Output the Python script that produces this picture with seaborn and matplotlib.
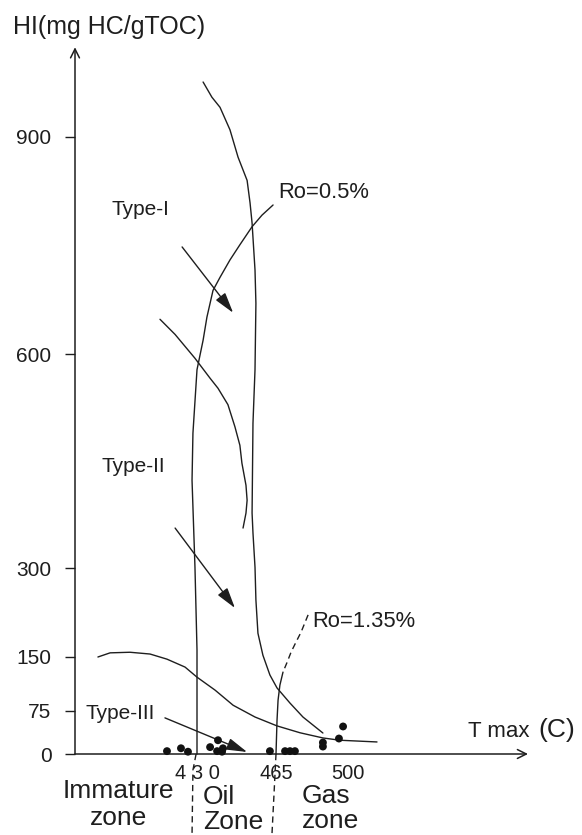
import numpy as np
import pandas as pd
import matplotlib
matplotlib.use("Agg")
import matplotlib.pyplot as plt
import seaborn as sns

# ---------------- data ----------------
y_ticks = [0, 75, 150, 300, 600, 900]
y_tick_labels = ["0", "75", "150", "300", "600", "900"]
x_ticks = [430, 465, 500]
x_tick_labels = ["4 3 0", "465", "500"]

# Type-I evolution path
type1_tmax = [432.7, 436.6, 440.2, 444.6, 448.2, 452.2, 453.5, 454.4, 455.7, 456.1,
              455.7, 454.8, 454.4, 454.8, 455.7, 456.1, 457.0, 459.2, 462.3, 465.5,
              471.8, 478.1, 487.8]
type1_hi = [976, 955, 941, 910, 872, 840, 809, 781, 716, 670,
            578, 503, 377, 349, 301, 246, 190, 153, 125, 107,
            86, 64.5, 36.6]

# Type-II evolution path
type2_tmax = [413.6, 420.3, 429.1, 435.8, 439.3, 443.7, 446.8, 449.0, 449.9, 451.7,
              452.2, 451.7, 450.4]
type2_hi = [648, 627, 594, 566, 552, 529, 498, 472, 447, 416, 395, 377, 356]

# Type-III evolution path
type3_tmax = [386.1, 391.5, 400.3, 409.2, 416.7, 424.7, 430.0, 438.0, 446.0, 455.7,
              465.5, 476.7, 487.8, 496.1, 514.1]
type3_hi = [150, 157, 158, 155, 147, 136, 122, 104, 83, 64.5, 49, 37, 28, 24, 21]

# Ro = 0.5 % iso-maturity line (430 C)
ro05_tmax = [463.7, 458.8, 454.4, 449.0, 444.6, 440.2, 437.1, 434.4, 432.7, 430.0,
             428.2, 427.8, 429.1, 430.0, 430.0, 430.0]
ro05_hi = [806, 792, 776, 751, 730, 706, 688, 651, 619, 578, 489, 423, 301, 162, 90, 0]
ro05_below_tmax = [429.6, 428.2, 427.8]
ro05_below_hi = [0, -28, -141]

# Ro = 1.35 % iso-maturity line (465 C)
ro135_dash_tmax = [480.6, 477.2, 474.7, 472.3, 470.3, 468.4]
ro135_dash_hi = [221, 192, 175, 158, 142, 129]
ro135_tmax = [468.4, 466.9, 466.0, 465.5, 465.0]
ro135_hi = [129, 111, 90, 59, 0]
ro135_below_tmax = [465.0, 464.1, 463.2]
ro135_below_hi = [0, -71.5, -141]

# samples
samples_tmax = [416.7, 422.9, 426.0, 435.8, 439.3, 438.9, 441.5, 441.1, 462.3,
                469.4, 471.8, 474.2, 487.8, 487.8, 495.6, 497.6]
samples_hi = [5, 10, 4, 12, 24, 5, 10, 4, 5, 5, 5, 5, 20, 13, 27, 48]

# arrows: (start tmax, start hi) -> (end tmax, end hi)
arrow_labels = ["Type-I", "Type-II", "Type-III"]
arrow_start_tmax = [423.4, 420.3, 415.8]
arrow_start_hi = [748, 356, 63]
arrow_end_tmax = [446.0, 446.8, 452.2]
arrow_end_hi = [657, 232.6, 3.5]

# ---------------- scales (hand-drawn, piecewise-linear axes) ----------------
XV = np.array([300.0, 430.0, 465.0, 500.0, 700.0])
XP = np.array([-96.4, 197.0, 276.0, 348.0, 759.4])
YV = np.array([-400.0, 0.0, 75.0, 150.0, 300.0, 600.0, 900.0, 1400.0])
YP = np.array([-148.4, 81.0, 124.0, 178.0, 267.0, 481.0, 698.0, 1059.8])


def xf(v):
    return np.interp(np.asarray(v, dtype=float), XV, XP)


def xi(p):
    return np.interp(np.asarray(p, dtype=float), XP, XV)


def yf(v):
    return np.interp(np.asarray(v, dtype=float), YV, YP)


def yi(p):
    return np.interp(np.asarray(p, dtype=float), YP, YV)


sns.set_theme(style="white")
plt.rcParams["font.family"] = ["Liberation Sans", "DejaVu Sans"]

INK = "#1e1e1e"
W, H = 582, 835
fig = plt.figure(figsize=(W / 100, H / 100), dpi=100)
left_px = 75
ax = fig.add_axes([left_px / W, 0, 1 - left_px / W, 1])
ax.set_xscale("function", functions=(xf, xi))
ax.set_yscale("function", functions=(yf, yi))
x_left = float(xi(left_px))
ax.set_xlim(x_left, float(xi(W)))
ax.set_ylim(float(yi(0)), float(yi(H)))
for s in ax.spines.values():
    s.set_visible(False)
ax.set_facecolor("white")
fig.patch.set_facecolor("white")


def curve(xs, ys, ls="-"):
    df = pd.DataFrame({"x": xs, "y": ys})
    sns.lineplot(data=df, x="x", y="y", sort=False, estimator=None, ax=ax,
                 color=INK, lw=1.0, linestyle=ls, clip_on=False,
                 solid_joinstyle="round")


curve(type1_tmax, type1_hi)
curve(type2_tmax, type2_hi)
curve(type3_tmax, type3_hi)
curve(ro05_tmax, ro05_hi)
curve(ro05_below_tmax, ro05_below_hi, ls=(0, (4.5, 3)))
curve(ro135_dash_tmax, ro135_dash_hi, ls=(0, (4.5, 3)))
curve(ro135_tmax, ro135_hi)
curve(ro135_below_tmax, ro135_below_hi, ls=(0, (4.5, 3)))

sns.scatterplot(x=samples_tmax, y=samples_hi, ax=ax, s=32, color="#111111",
                edgecolor="none", zorder=5, clip_on=False)

# axes with open arrowheads
ax.annotate("", xy=(587.5, 0), xytext=(x_left, 0),
            arrowprops=dict(arrowstyle="->", lw=1.1, color=INK, shrinkA=0, shrinkB=0,
                            mutation_scale=16))
ax.annotate("", xy=(x_left, 1024), xytext=(x_left, 0),
            arrowprops=dict(arrowstyle="->", lw=1.1, color=INK, shrinkA=0, shrinkB=0,
                            mutation_scale=16))

# evolution arrows
for sx, sy, ex, ey in zip(arrow_start_tmax, arrow_start_hi, arrow_end_tmax, arrow_end_hi):
    ax.annotate("", xy=(ex, ey), xytext=(sx, sy),
                arrowprops=dict(arrowstyle="-|>,head_length=0.9,head_width=0.26",
                                lw=1.0, color=INK, shrinkA=0, shrinkB=0,
                                mutation_scale=14))

# y ticks
ax.set_yticks(y_ticks)
ax.set_yticklabels(y_tick_labels)
ax.yaxis.set_minor_locator(matplotlib.ticker.NullLocator())
ax.xaxis.set_minor_locator(matplotlib.ticker.NullLocator())
ax.tick_params(axis="y", which="major", left=True, length=7, width=1.0, pad=10,
               labelsize=15, colors=INK, direction="out")
ax.set_xticks([])
ax.set_xlabel("")
ax.set_ylabel("")
# x tick labels just below the x axis
for xv, lab in zip(x_ticks, x_tick_labels):
    ax.text(xv, -44, lab, fontsize=14.5, color=INK, ha="center", va="baseline")

# text labels
ax.text(348.5, 1042, "HI(mg HC/gTOC)", fontsize=18, color=INK, ha="left", va="baseline",
        clip_on=False)
ax.text(558.3, 30, "T max ", fontsize=16, color=INK, ha="left", va="baseline")
ax.text(592.5, 30, "(C)", fontsize=19, color=INK, ha="left", va="baseline")
ax.text(392.3, 792, "Type-I", fontsize=15, color=INK, ha="left", va="baseline")
ax.text(387.9, 434.6, "Type-II", fontsize=15, color=INK, ha="left", va="baseline")
ax.text(380.8, 61, "Type-III", fontsize=15, color=INK, ha="left", va="baseline")
ax.text(466.0, 815.6, "Ro=0.5%", fontsize=15.8, color=INK, ha="left", va="baseline")
ax.text(482.5, 200.5, "Ro=1.35%", fontsize=15.8, color=INK, ha="left", va="baseline")

ax.text(395.2, -77, "Immature", fontsize=19, color=INK, ha="center", va="baseline")
ax.text(395.2, -124, "zone", fontsize=19, color=INK, ha="center", va="baseline")
ax.text(432.7, -88, "Oil", fontsize=19, color=INK, ha="left", va="baseline")
ax.text(432.7, -131, "Zone", fontsize=19, color=INK, ha="left", va="baseline")
ax.text(477.6, -85, "Gas", fontsize=19, color=INK, ha="left", va="baseline")
ax.text(477.6, -129, "zone", fontsize=19, color=INK, ha="left", va="baseline")

fig.savefig("out.png", dpi=100)
